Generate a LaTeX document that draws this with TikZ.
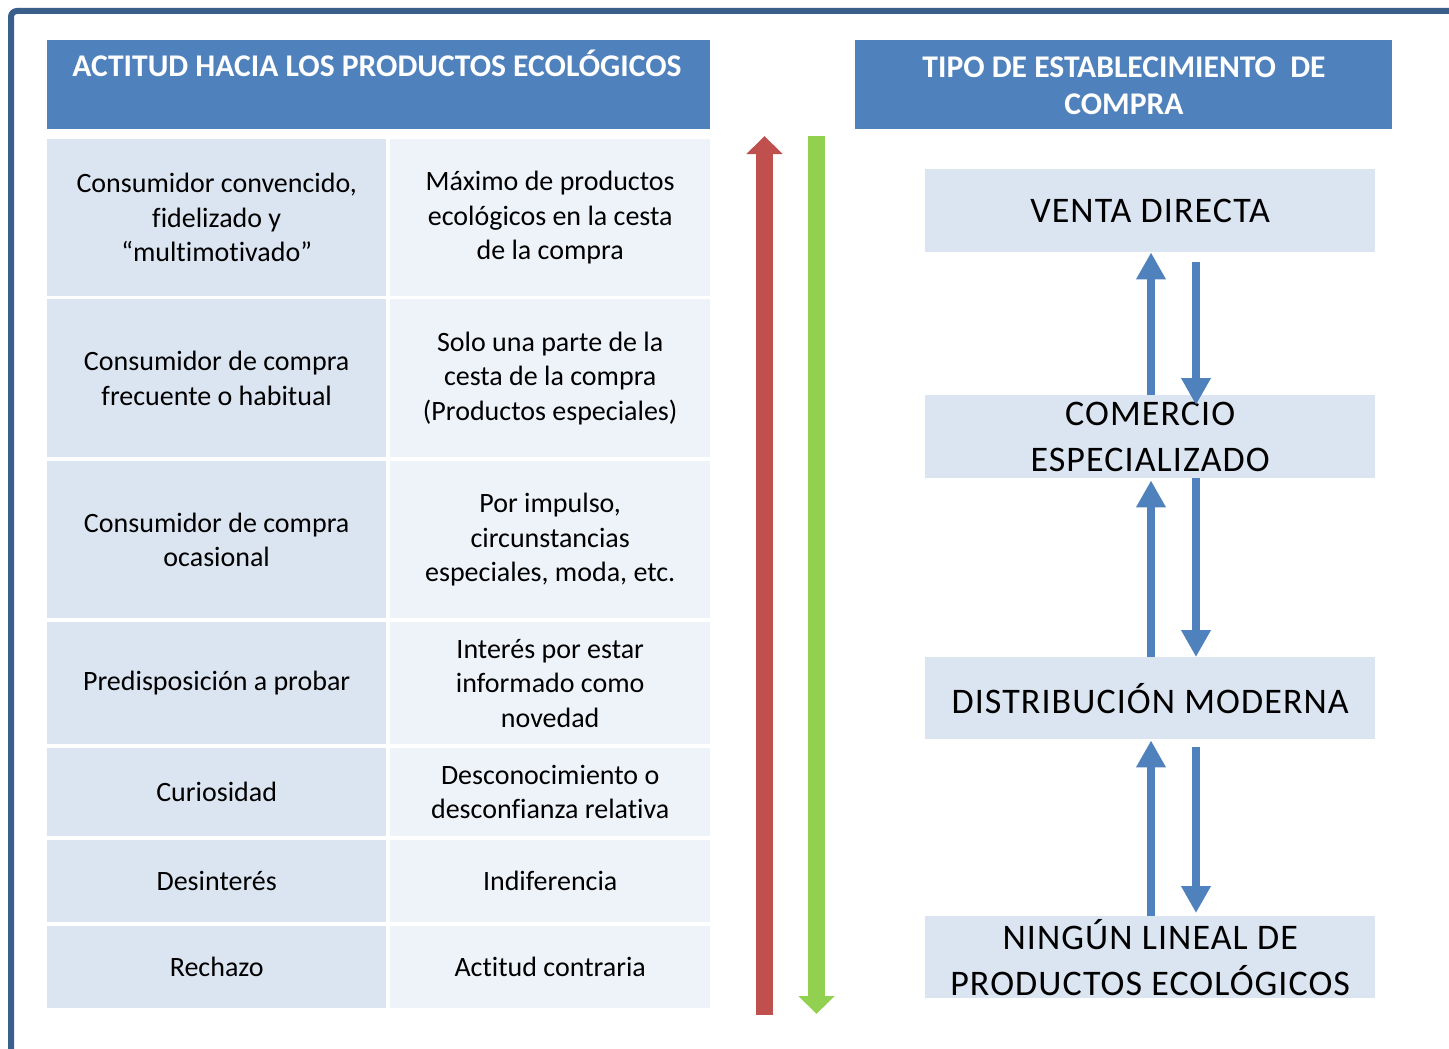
\documentclass[tikz,border=0pt]{standalone}
\usepackage{fontspec}
\setmainfont{Carlito}[Ligatures=NoCommon]
\usetikzlibrary{arrows.meta,calc}
\definecolor{hdr}{HTML}{4F81BD}
\definecolor{cellA}{HTML}{DBE5F1}
\definecolor{cellB}{HTML}{EEF3FA}
\definecolor{framec}{HTML}{3A5F8B}
\definecolor{redarr}{HTML}{C0504D}
\definecolor{greenarr}{HTML}{92D050}
\definecolor{bluearr}{HTML}{4F81BD}
\begin{document}
\begin{tikzpicture}[x=1pt,y=-1pt,
  hdrbox/.style={anchor=north west, fill=hdr, inner sep=0pt},
  hdrtext/.style={text=white, font=\fontsize{31.6}{37}\selectfont\bfseries, align=center, inner sep=0pt},
  cellL/.style={anchor=north west, fill=cellA, inner sep=0pt, minimum width=339pt, align=center, font=\fontsize{28}{34.5}\selectfont},
  cellR/.style={anchor=north west, fill=cellB, inner sep=0pt, minimum width=320pt, align=center, font=\fontsize{28}{34.5}\selectfont},
  tipobox/.style={anchor=north west, fill=cellA, inner sep=0pt, minimum width=450pt, minimum height=83pt, align=center, font=\fontsize{36}{46}\selectfont\addfontfeatures{LetterSpace=3}},
  bigarrow/.style={line width=17pt},
  flow/.style={draw=bluearr, line width=8pt, -{Triangle[width=28pt,length=27pt]}}
]
\useasboundingbox (0,0) rectangle (1449,1049);
\fill[white] (0,0) rectangle (1449,1049);
% frame
\draw[framec, line width=6pt, rounded corners=6pt] (11,1070) -- (11,11) -- (1470,11);
% headers
\node[hdrbox, minimum width=663pt, minimum height=89pt] (h1) at (47,40) {};
\node[hdrtext, anchor=base] (h1t) at (377,77) {ACTITUD HACIA LOS PRODUCTOS ECOLÓGICOS};
\node[hdrbox, minimum width=537pt, minimum height=89pt] (h2) at (855,40) {};
\node[hdrtext, anchor=north] (h2t) at (1124,57) {TIPO DE ESTABLECIMIENTO\ \ DE\\COMPRA};
% table
\node[cellL, minimum height=157pt] (r1a) at (47,139) {Consumidor convencido,\\fidelizado y\\“multimotivado”};
\node[cellR, minimum height=157pt] (r1b) at (390,139) {Máximo de productos\\ecológicos en la cesta\\de la compra};
\node[cellL, minimum height=158pt] (r2a) at (47,299) {Consumidor de compra\\frecuente o habitual};
\node[cellR, minimum height=158pt] (r2b) at (390,299) {Solo una parte de la\\cesta de la compra\\(Productos especiales)};
\node[cellL, minimum height=157pt] (r3a) at (47,461) {Consumidor de compra\\ocasional};
\node[cellR, minimum height=157pt] (r3b) at (390,461) {Por impulso,\\circunstancias\\especiales, moda, etc.};
\node[cellL, minimum height=122pt] (r4a) at (47,622) {Predisposición a probar};
\node[cellR, minimum height=122pt] (r4b) at (390,622) {Interés por estar\\informado como\\novedad};
\node[cellL, minimum height=88pt] (r5a) at (47,748) {Curiosidad};
\node[cellR, minimum height=88pt] (r5b) at (390,748) {Desconocimiento o\\desconfianza relativa};
\node[cellL, minimum height=82pt] (r6a) at (47,840) {Desinterés};
\node[cellR, minimum height=82pt] (r6b) at (390,840) {Indiferencia};
\node[cellL, minimum height=82pt] (r7a) at (47,926) {Rechazo};
\node[cellR, minimum height=82pt] (r7b) at (390,926) {Actitud contraria};
% big arrows
\coordinate (redbot) at (764.5,1015);
\coordinate (redtop) at (764.5,136);
\coordinate (grtop) at (816.5,136);
\coordinate (grbot) at (816.5,1014);
\draw[bigarrow, redarr, -{Triangle[width=35pt,length=18pt]}] (redbot) -- (redtop);
\draw[bigarrow, greenarr, -{Triangle[width=35pt,length=18pt]}] (grtop) -- (grbot);
% right boxes
\node[tipobox] (b1) at (925,169) {VENTA DIRECTA};
\node[tipobox] (b2) at (925,395) {COMERCIO\\ESPECIALIZADO};
\node[tipobox, minimum height=82pt] (b3) at (925,657) {DISTRIBUCIÓN MODERNA};
\node[tipobox, minimum height=82pt] (b4) at (925,916) {NINGÚN LINEAL DE\\PRODUCTOS ECOLÓGICOS};
\coordinate (ux) at (1151,0);
\coordinate (dx) at (1196,0);
\draw[flow] (b2.north -| ux) -- (b1.south -| ux);
\draw[flow] ([yshift=-10pt]b1.south -| dx) -- ([yshift=-10pt]b2.north -| dx);
\draw[flow] (b3.north -| ux) -- ([yshift=-2pt]b2.south -| ux);
\draw[flow] (b2.south -| dx) -- (b3.north -| dx);
\draw[flow] (b4.north -| ux) -- ([yshift=-1pt]b3.south -| ux);
\draw[flow] ([yshift=-8pt]b3.south -| dx) -- ([yshift=3pt]b4.north -| dx);
\end{tikzpicture}
\end{document}
